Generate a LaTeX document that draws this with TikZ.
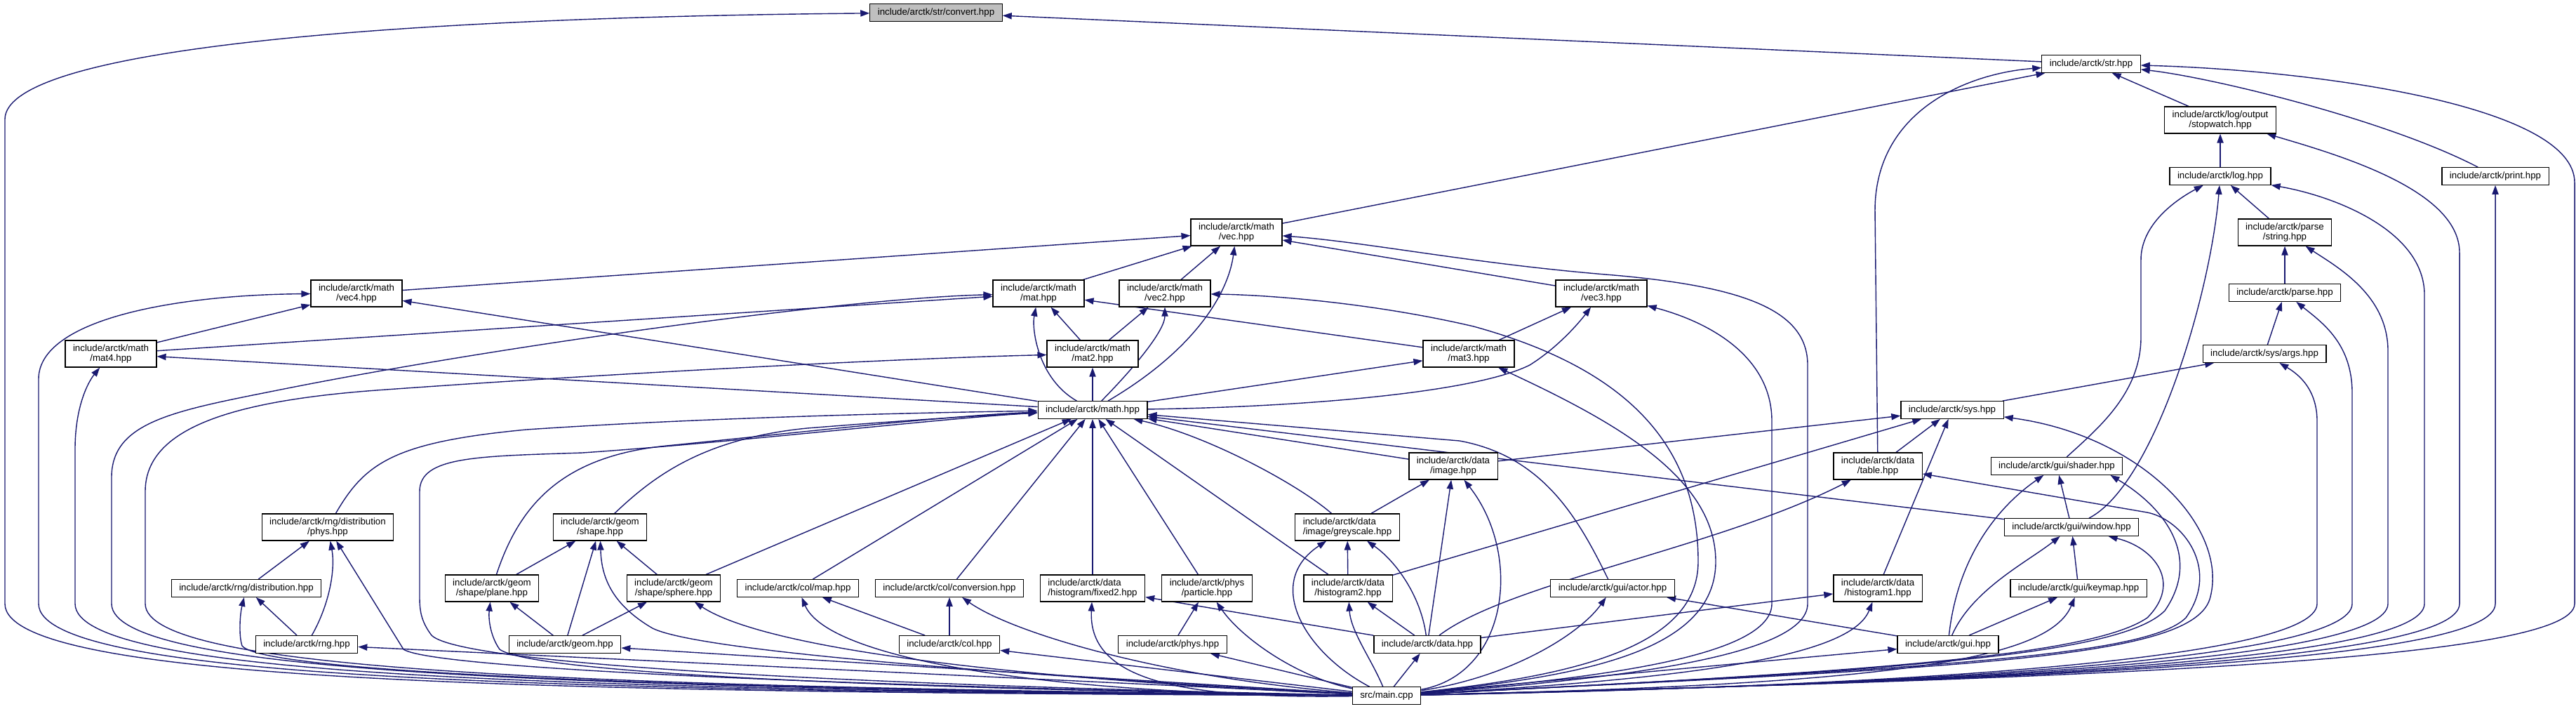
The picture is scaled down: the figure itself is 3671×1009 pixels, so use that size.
\documentclass[tikz,border=0pt]{standalone}
\usepackage{fontspec}
\setmainfont{Liberation Sans}
\usetikzlibrary{arrows.meta}
\definecolor{edgeblue}{HTML}{191970}
\definecolor{rootgray}{HTML}{BFBFBF}
\pgfdeclarelayer{back}
\pgfsetlayers{back,main}

\begin{document}
\begin{tikzpicture}[x=0.5pt, y=-0.5pt, >={Triangle[length=6.5pt,width=4.6pt]},
  file/.style={draw=black, line width=0.6pt, fill=white, font=\fontsize{6.65}{7}\selectfont,
    inner xsep=5.5pt, inner ysep=0pt, minimum height=12.3pt},
  file2/.style={file, align=center, minimum height=19pt},
  filel/.style={file, align=left, minimum height=19pt},
  inc/.style={draw=edgeblue, line width=0.7pt, ->}]
\useasboundingbox (0,0) rectangle (3671,1009);
% ---------- str / log side ----------
\node[file, fill=rootgray] (convert) at (1334,18) {include/arctk/str/convert.hpp};
\node[file] (strh) at (2980,91) {include/arctk/str.hpp};
\node[file2] (stopwatch) at (3164,171) {include/arctk/log/output\\/stopwatch.hpp};
\node[file] (logh) at (3164,251) {include/arctk/log.hpp};
\node[file] (printh) at (3556,251) {include/arctk/print.hpp};
\node[file2] (pstring) at (3256,331) {include/arctk/parse\\/string.hpp};
\node[file] (parseh) at (3256,417) {include/arctk/parse.hpp};
\node[file] (args) at (3227,504) {include/arctk/sys/args.hpp};
\node[file] (sysh) at (2782,584) {include/arctk/sys.hpp};
% ---------- math headers ----------
\node[file2] (vech) at (1762,331) {include/arctk/math\\/vec.hpp};
\node[file2] (vec4) at (508,418) {include/arctk/math\\/vec4.hpp};
\node[file2] (mat) at (1480,418) {include/arctk/math\\/mat.hpp};
\node[file2] (vec2) at (1660,418) {include/arctk/math\\/vec2.hpp};
\node[file2] (vec3) at (2282,418) {include/arctk/math\\/vec3.hpp};
\node[file2] (mat4) at (158,504) {include/arctk/math\\/mat4.hpp};
\node[file2] (mat2) at (1557,504) {include/arctk/math\\/mat2.hpp};
\node[file2] (mat3) at (2093,504) {include/arctk/math\\/mat3.hpp};
\node[file] (mathh) at (1557,584) {include/arctk/math.hpp};
% ---------- data / gui ----------
\node[file2] (image) at (2071,664) {include/arctk/data\\/image.hpp};
\node[file2] (table) at (2676,664) {include/arctk/data\\/table.hpp};
\node[file] (shader) at (2931,664) {include/arctk/gui/shader.hpp};
\node[filel] (grey) at (1920,751) {include/arctk/data\\/image/greyscale.hpp};
\node[file] (window) at (2952,751) {include/arctk/gui/window.hpp};
\node[file2] (hist2) at (1921,838) {include/arctk/data\\/histogram2.hpp};
\node[file] (actor) at (2298,838) {include/arctk/gui/actor.hpp};
\node[file2] (hist1) at (2676,838) {include/arctk/data\\/histogram1.hpp};
\node[file] (keymap) at (2962,838) {include/arctk/gui/keymap.hpp};
\node[file] (datah) at (2034,918) {include/arctk/data.hpp};
\node[file] (guih) at (2776,918) {include/arctk/gui.hpp};
% ---------- rng / geom / col / phys ----------
\node[file2] (distphys) at (467,751) {include/arctk/rng/distribution\\/phys.hpp};
\node[file2] (shape) at (855,751) {include/arctk/geom\\/shape.hpp};
\node[file] (dist) at (351,838) {include/arctk/rng/distribution.hpp};
\node[file2] (plane) at (701,838) {include/arctk/geom\\/shape/plane.hpp};
\node[file2] (sphere) at (960,838) {include/arctk/geom\\/shape/sphere.hpp};
\node[file] (colmap) at (1137,838) {include/arctk/col/map.hpp};
\node[file] (conv) at (1353,838) {include/arctk/col/conversion.hpp};
\node[filel] (fixed2) at (1557,838) {include/arctk/data\\/histogram/fixed2.hpp};
\node[file2] (particle) at (1720,838) {include/arctk/phys\\/particle.hpp};
\node[file] (rngh) at (437,918) {include/arctk/rng.hpp};
\node[file] (geomh) at (805,918) {include/arctk/geom.hpp};
\node[file] (colh) at (1353,918) {include/arctk/col.hpp};
\node[file] (physh) at (1671,918) {include/arctk/phys.hpp};
\node[file] (mainc) at (1976,991) {src/main.cpp};

\begin{pgfonlayer}{back}
% main.cpp -> far left columns
\draw[inc] (mainc) .. controls (800,986) and (7,975) .. (7,860) -- (7,170) .. controls (7,70) and (550,25) .. (convert);
\draw[inc] (mainc) .. controls (800,984) and (55,970) .. (55,860) -- (55,540) .. controls (55,455) and (250,420) .. (vec4);
\draw[inc] (mainc) .. controls (800,982) and (107,965) .. (107,860) -- (107,640) .. controls (107,580) and (125,545) .. (mat4);
\draw[inc] (mainc) .. controls (800,980) and (159,960) .. (159,860) -- (159,680) .. controls (159,600) and (250,585) .. (400,555) .. controls (700,495) and (1200,425) .. (mat);
\draw[inc] (mainc) .. controls (800,978) and (207,955) .. (207,860) -- (207,700) .. controls (207,610) and (330,570) .. (550,555) .. controls (900,530) and (1300,510) .. (mat2);
% main.cpp -> lower left
\draw[inc] (mainc) .. controls (1300,978) and (660,950) .. (615,905) .. controls (600,885) and (598,870) .. (598,850) -- (598,700) .. controls (598,650) and (680,650) .. (830,645) .. controls (1050,630) and (1350,595) .. (mathh);
\draw[inc] (mainc) .. controls (1300,980) and (620,955) .. (575,925) -- (distphys);
\draw[inc] (mainc) .. controls (1200,985) and (380,965) .. (345,920) .. controls (340,905) and (342,875) .. (dist);
\draw[inc] (mainc) -- (rngh);
\draw[inc] (mainc) .. controls (1300,982) and (760,960) .. (712,925) .. controls (698,905) and (696,880) .. (plane);
\draw[inc] (mainc) .. controls (1500,965) and (1000,930) .. (930,895) .. controls (870,860) and (857,820) .. (shape);
\draw[inc] (mainc) -- (geomh);
\draw[inc] (mainc) .. controls (1500,970) and (1100,930) .. (sphere);
\draw[inc] (mainc) .. controls (1500,990) and (1180,940) .. (colmap);
\draw[inc] (mainc) -- (colh);
\draw[inc] (mainc) .. controls (1650,965) and (1440,900) .. (conv);
\draw[inc] (mainc) .. controls (1700,995) and (1550,975) .. (fixed2);
\draw[inc] (mainc) -- (physh);
\draw[inc] (mainc) .. controls (1850,965) and (1770,910) .. (particle);
\draw[inc] (mainc) .. controls (1955,940) and (1925,900) .. (hist2);
\draw[inc] (mainc) .. controls (1860,930) and (1800,830) .. (grey);
\draw[inc] (mainc) -- (datah);
\draw[inc] (mainc) .. controls (2150,960) and (2170,790) .. (image);
% main.cpp -> right side
\draw[inc] (mainc) .. controls (2150,965) and (2250,905) .. (actor);
\draw[inc] (mainc) .. controls (2450,965) and (2640,930) .. (hist1);
\draw[inc] (mainc) -- (guih);
\draw[inc] (mainc) .. controls (2700,975) and (2920,940) .. (keymap);
\draw[inc] (mainc) .. controls (2650,958) and (2980,935) .. (3060,880) .. controls (3110,830) and (3070,780) .. (window);
\draw[inc] (mainc) .. controls (2700,955) and (3020,935) .. (3085,870) .. controls (3140,790) and (3080,720) .. ([xshift=-9pt]shader.south east);
\draw[inc] (mainc) .. controls (2750,952) and (3060,935) .. (3115,880) .. controls (3165,810) and (3110,740) .. (3060,730) -- (table);
\draw[inc] (mainc) .. controls (2800,950) and (3130,940) .. (3150,850) .. controls (3175,750) and (3050,620) .. (sysh);
\draw[inc] (mainc) .. controls (2250,962) and (2420,920) .. (2420,800) .. controls (2420,620) and (2300,520) .. (2100,465) .. controls (1950,430) and (1800,420) .. (vec2);
\draw[inc] (mainc) .. controls (2250,964) and (2445,930) .. (2445,800) .. controls (2445,680) and (2300,600) .. (mat3);
\draw[inc] (mainc) .. controls (2280,966) and (2525,935) .. (2525,860) -- (2525,600) .. controls (2525,510) and (2440,460) .. (vec3);
\draw[inc] (mainc) .. controls (2300,968) and (2576,935) .. (2576,860) -- (2576,520) .. controls (2576,440) and (2480,408) .. (2300,392) .. controls (2100,376) and (1950,345) .. (vech);
% main.cpp -> far right columns
\draw[inc] (mainc) .. controls (2700,978) and (3302,940) .. (3302,860) -- (3302,600) .. controls (3302,550) and (3270,530) .. (args);
\draw[inc] (mainc) .. controls (2750,976) and (3352,940) .. (3352,860) -- (3352,560) .. controls (3352,490) and (3310,460) .. (parseh);
\draw[inc] (mainc) .. controls (2800,974) and (3403,940) .. (3403,860) -- (3403,500) .. controls (3403,420) and (3330,380) .. (pstring);
\draw[inc] (mainc) .. controls (2850,972) and (3455,940) .. (3455,860) -- (3455,420) .. controls (3455,330) and (3330,280) .. (logh);
\draw[inc] (mainc) .. controls (2900,970) and (3505,940) .. (3505,860) -- (3505,360) .. controls (3505,270) and (3330,220) .. (stopwatch);
\draw[inc] (mainc) .. controls (2950,968) and (3556,940) .. (3556,860) -- (printh);
\draw[inc] (mainc) .. controls (3000,966) and (3669,940) .. (3669,860) -- (3669,260) .. controls (3669,150) and (3300,100) .. (strh);
% str / log / parse / sys
\draw[inc] (strh) -- (convert);
\draw[inc] (vech) -- (strh);
\draw[inc] (table) -- (2672,300) .. controls (2672,160) and (2800,105) .. (strh);
\draw[inc] (stopwatch) -- (strh);
\draw[inc] (printh) .. controls (3400,170) and (3150,110) .. (strh);
\draw[inc] (logh) -- (stopwatch);
\draw[inc] (pstring) -- (logh);
\draw[inc] (shader) .. controls (2990,610) and (3051,560) .. (3051,480) -- (3051,370) .. controls (3051,320) and (3100,285) .. (logh);
\draw[inc] (window) .. controls (3070,690) and (3150,420) .. (logh);
\draw[inc] (parseh) -- (pstring);
\draw[inc] (args) -- (parseh);
\draw[inc] (sysh) -- (args);
\draw[inc] (image) -- (sysh);
\draw[inc] (hist2) -- (sysh);
\draw[inc] (table) -- (sysh);
\draw[inc] (hist1) -- (sysh);
\draw[inc] (datah) .. controls (2150,830) and (2450,780) .. (table);
\draw[inc] (datah) -- (hist1);
% gui
\draw[inc] (guih) .. controls (2790,790) and (2850,720) .. (shader);
\draw[inc] (window) -- (shader);
\draw[inc] (guih) .. controls (2810,840) and (2890,800) .. (window);
\draw[inc] (keymap) -- (window);
\draw[inc] (guih) -- (keymap);
\draw[inc] (guih) -- (actor);
\draw[inc] (window) -- (mathh);
\draw[inc] (actor) .. controls (2250,740) and (2200,650) .. (2080,628) -- (mathh);
% vec / mat family
\draw[inc] (vec4) -- (vech);
\draw[inc] (mat) -- (vech);
\draw[inc] (vec2) -- (vech);
\draw[inc] (vec3) -- (vech);
\draw[inc] (mathh) .. controls (1700,500) and (1750,420) .. (vech);
\draw[inc] (mat4) -- (vec4);
\draw[inc] (mathh) -- (vec4);
\draw[inc] (mathh) -- (mat4);
\draw[inc] (mat4) -- (mat);
\draw[inc] (mat2) -- (mat);
\draw[inc] (mat3) -- (mat);
\draw[inc] (mathh) .. controls (1480,540) and (1470,470) .. (mat);
\draw[inc] (mat2) -- (vec2);
\draw[inc] (mathh) .. controls (1620,520) and (1660,470) .. (vec2);
\draw[inc] (mathh) -- (mat2);
\draw[inc] (mat3) -- (vec3);
\draw[inc] (mathh) .. controls (1850,580) and (2100,560) .. (2180,520) .. controls (2220,495) and (2250,460) .. (vec3);
\draw[inc] (mathh) -- (mat3);
% users of math.hpp
\draw[inc] (distphys) .. controls (520,660) and (560,630) .. (750,612) .. controls (1000,595) and (1300,588) .. (mathh);
\draw[inc] (plane) .. controls (740,720) and (800,650) .. (950,635) .. controls (1100,620) and (1350,592) .. (mathh);
\draw[inc] (shape) .. controls (930,680) and (1000,625) .. (1150,610) .. controls (1300,598) and (1400,592) .. (mathh);
\draw[inc] (sphere) -- (mathh);
\draw[inc] (colmap) -- (mathh);
\draw[inc] (conv) -- (mathh);
\draw[inc] (fixed2) -- (mathh);
\draw[inc] (particle) -- (mathh);
\draw[inc] (hist2) -- (mathh);
\draw[inc] (grey) .. controls (1850,690) and (1720,620) .. (mathh);
\draw[inc] (image) -- (mathh);
% rng / geom / col / phys / data
\draw[inc] (dist) -- (distphys);
\draw[inc] (rngh) .. controls (470,860) and (478,810) .. (distphys);
\draw[inc] (rngh) -- (dist);
\draw[inc] (plane) -- (shape);
\draw[inc] (geomh) -- (shape);
\draw[inc] (sphere) -- (shape);
\draw[inc] (geomh) -- (plane);
\draw[inc] (geomh) -- (sphere);
\draw[inc] (colh) -- (colmap);
\draw[inc] (colh) -- (conv);
\draw[inc] (physh) -- (particle);
\draw[inc] (datah) -- (fixed2);
\draw[inc] (grey) -- (image);
\draw[inc] (datah) -- (image);
\draw[inc] (hist2) -- (grey);
\draw[inc] (datah) .. controls (2025,850) and (1990,800) .. (grey);
\draw[inc] (datah) -- (hist2);
\end{pgfonlayer}
\end{tikzpicture}
\end{document}
